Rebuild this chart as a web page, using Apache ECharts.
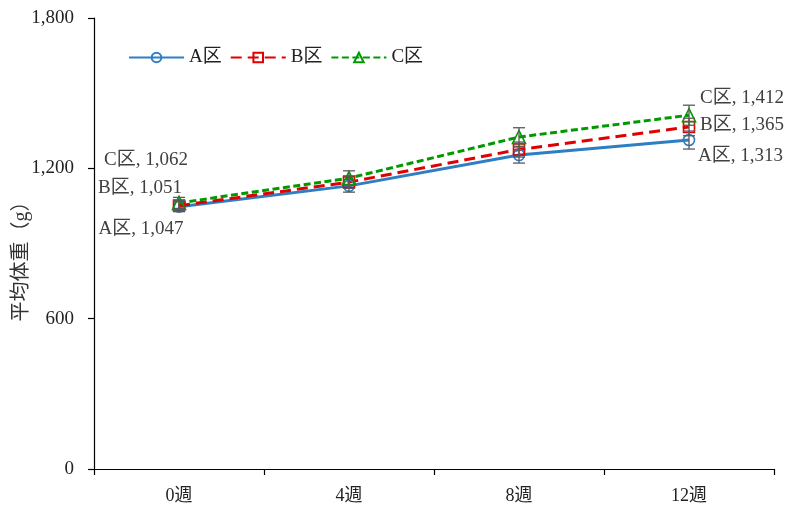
<!DOCTYPE html>
<html>
<head>
<meta charset="utf-8">
<script src="https://cdn.jsdelivr.net/npm/echarts@6/dist/echarts.min.js"></script>
<style>html,body{margin:0;padding:0;background:#fff}#c{width:785px;height:508px}</style>
</head>
<body>
<div id="c"></div>
<script>
const categories = ['0週', '4週', '8週', '12週'];
const seriesNames = ['A区', 'B区', 'C区'];
const valuesA = [1047, 1130, 1253, 1313];
const valuesB = [1051, 1145, 1275, 1365];
const valuesC = [1062, 1161, 1325, 1412];
const errA = [20, 25, 32, 36];
const errB = [20, 25, 30, 35];
const errC = [22, 29, 37, 40];
const yTicks = [0, 600, 1200, 1800];

const serif = '"Liberation Serif", "Times New Roman", "Noto Sans CJK JP", serif';
const fmt = v => v.toLocaleString('en-US');

// label placement per series: [first point, last point]
const labelPlace = {
  'A区': [{align: 'center', offset: [-38, 22]}, {align: 'left', offset: [9, 16]}],
  'B区': [{align: 'center', offset: [-39, -18]}, {align: 'left', offset: [11, -2]}],
  'C区': [{align: 'center', offset: [-33, -43]}, {align: 'left', offset: [11, -17]}]
};

function buildData(name, vals) {
  return vals.map((v, i) => {
    const lp = i === 0 ? labelPlace[name][0] : (i === vals.length - 1 ? labelPlace[name][1] : null);
    if (!lp) return {value: v, label: {show: false}};
    return {value: v, label: {show: true, position: 'inside', align: lp.align, verticalAlign: 'middle', offset: lp.offset,
      formatter: name + ', ' + fmt(v), color: '#404040', fontSize: 19, fontFamily: serif}};
  });
}

const colors = {'A区': '#2E7EC4', 'B区': '#E00000', 'C区': '#009A00'};
const symbols = {'A区': 'circle', 'B区': 'rect', 'C区': 'triangle'};
const dashes = {'A区': 'solid', 'B区': [11, 6], 'C区': [7, 3.5]};
const vals = {'A区': valuesA, 'B区': valuesB, 'C区': valuesC};
const errs = {'A区': errA, 'B区': errB, 'C区': errC};

const lineSeries = seriesNames.map(n => ({
  name: n, type: 'line', data: buildData(n, vals[n]),
  symbol: symbols[n], symbolSize: n === 'C区' ? 13 : 11, showAllSymbol: true,
  lineStyle: {color: colors[n], width: 3, type: dashes[n]},
  itemStyle: {color: 'rgba(255,255,255,0)', borderColor: colors[n], borderWidth: 1.6},
  emphasis: {disabled: true}, animation: false, z: 2
}));

const errData = [];
seriesNames.forEach(n => vals[n].forEach((v, i) => errData.push([i, v - errs[n][i], v + errs[n][i]])));

const errSeries = {
  type: 'custom', name: 'err', data: errData, z: 3, animation: false, silent: true,
  renderItem: function (params, api) {
    const x = api.value(0);
    const lo = api.coord([x, api.value(1)]);
    const hi = api.coord([x, api.value(2)]);
    const hw = 6;
    const st = {stroke: '#595959', lineWidth: 1.3, fill: null};
    return {type: 'group', children: [
      {type: 'line', shape: {x1: lo[0], y1: lo[1], x2: hi[0], y2: hi[1]}, style: st},
      {type: 'line', shape: {x1: lo[0] - hw, y1: lo[1], x2: lo[0] + hw, y2: lo[1]}, style: st},
      {type: 'line', shape: {x1: hi[0] - hw, y1: hi[1], x2: hi[0] + hw, y2: hi[1]}, style: st}
    ]};
  }
};

const chart = echarts.init(document.getElementById('c'), null, {renderer: 'canvas'});
chart.setOption({
  animation: false,
  backgroundColor: '#fff',
  grid: {left: 94, right: 11, top: 18, bottom: 39, containLabel: false, outerBoundsMode: 'none'},
  legend: {
    data: seriesNames, left: 123, top: 43, itemWidth: 55, itemHeight: 12, itemGap: 8,
    textStyle: {fontSize: 19, fontFamily: serif, color: '#222'},
    selectedMode: false
  },
  xAxis: {
    type: 'category', data: categories, boundaryGap: true,
    axisLine: {lineStyle: {color: '#000', width: 1.2}},
    axisTick: {show: true, length: 6, lineStyle: {color: '#000', width: 1.2}},
    axisLabel: {fontSize: 18, fontFamily: serif, color: '#222', margin: 18}
  },
  yAxis: {
    type: 'value', min: yTicks[0], max: yTicks[yTicks.length - 1], interval: 600,
    name: '平均体重（g）', nameLocation: 'middle', nameRotate: 90, nameGap: 62, nameMoveOverlap: false,
    nameTextStyle: {fontSize: 20, fontFamily: serif, color: '#333', padding: [0, 26, 0, 0]},
    axisLine: {show: true, lineStyle: {color: '#000', width: 1.2}},
    axisTick: {show: true, length: 6, lineStyle: {color: '#000', width: 1.2}},
    splitLine: {show: false},
    axisLabel: {fontSize: 19, fontFamily: serif, color: '#222', margin: 20, formatter: v => fmt(v)}
  },
  series: [...lineSeries, errSeries]
});
</script>
</body>
</html>
